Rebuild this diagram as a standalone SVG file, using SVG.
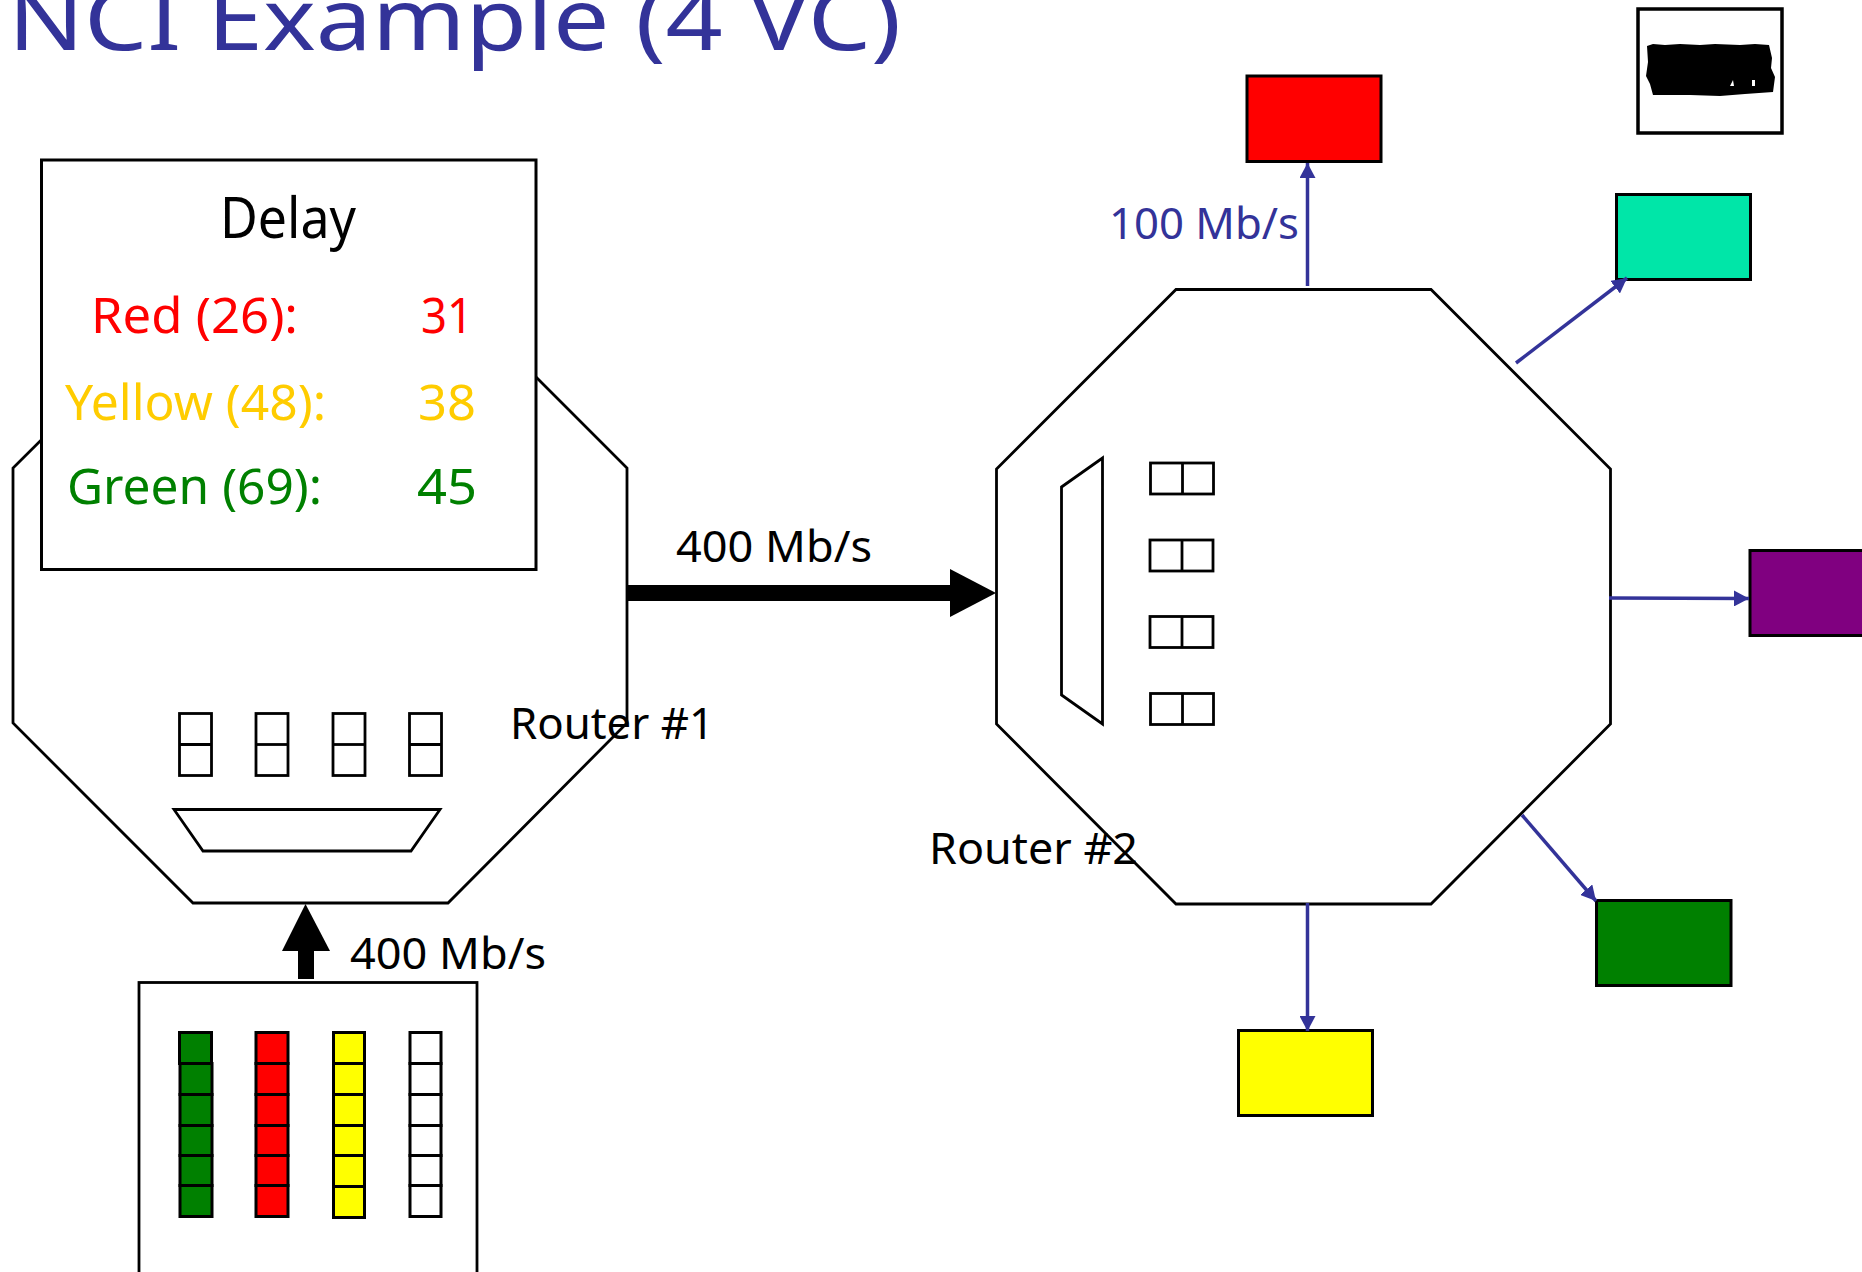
<svg xmlns="http://www.w3.org/2000/svg" width="1862" height="1272" viewBox="0 0 1862 1272">
<style>
text{font-family:"Noto Sans","DejaVu Sans",sans-serif;fill:#000}
.l{font-size:50px}.m{font-size:44px}
.o{fill:none;stroke:#000;stroke-width:2.8;stroke-linejoin:miter}
.w{fill:#fff;stroke:#000;stroke-width:3}
.c{fill:none;stroke:#333399;stroke-width:3.5}
.b{fill:#333399}
.q{stroke:#000;stroke-width:3}
</style>
<defs>
<g id="vq"><rect class="o" x="0" y="0" width="32" height="62"/><line class="o" x1="0" y1="31" x2="32" y2="31"/></g>
<g id="hq"><rect class="o" x="0" y="0" width="63" height="31"/><line class="o" x1="32" y1="0" x2="32" y2="31"/></g>
<marker id="arr" markerUnits="userSpaceOnUse" markerWidth="16" markerHeight="16" refX="15" refY="8" orient="auto"><path class="b" d="M0 0L15 8L0 16Z"/></marker>
</defs>
<rect width="1862" height="1272" fill="#fff"/>
<g id="title"><text x="8" y="50" font-size="86" style="fill:#333399" textLength="893" lengthAdjust="spacingAndGlyphs">NCI Example (4 VC)</text></g>

<g id="router1-label"><text class="m" x="510" y="739" textLength="204" lengthAdjust="spacingAndGlyphs">Router #1</text></g>
<g id="router1">
<polygon class="o" points="193,289 448,289 627,468 627,723 448,903 193,903 13,723 13,468"/>
<use href="#vq" x="179.500" y="713.500"/><use href="#vq" x="256" y="713.500"/><use href="#vq" x="333" y="713.500"/><use href="#vq" x="409.500" y="713.500"/>
<polygon class="o" points="174,809.500 440,809.500 411,851 203,851"/>
</g>

<g id="delay">
<rect class="w" x="41.500" y="160" width="494.500" height="409.500"/>
<text x="220" y="238" font-size="56" textLength="136" lengthAdjust="spacingAndGlyphs">Delay</text>
<text class="l" style="fill:#f00" x="91" y="333" textLength="207" lengthAdjust="spacingAndGlyphs">Red (26):</text><text class="l" style="fill:#f00" x="421" y="333" textLength="52" lengthAdjust="spacingAndGlyphs">31</text>
<text class="l" style="fill:#ffcc00" x="65" y="420" textLength="261" lengthAdjust="spacingAndGlyphs">Yellow (48):</text><text class="l" style="fill:#ffcc00" x="418" y="420" textLength="58" lengthAdjust="spacingAndGlyphs">38</text>
<text class="l" style="fill:#008000" x="67" y="504" textLength="255" lengthAdjust="spacingAndGlyphs">Green (69):</text><text class="l" style="fill:#008000" x="417" y="504" textLength="60" lengthAdjust="spacingAndGlyphs">45</text>
</g>

<g id="source">
<rect class="o" x="139" y="982.500" width="338" height="300"/>
<g id="queue-green" fill="#008000"><rect class="q" x="179.500" y="1032.500" width="32" height="31"/><rect class="q" x="180" y="1063.500" width="32" height="31"/><rect class="q" x="180" y="1094.500" width="32" height="31"/><rect class="q" x="180" y="1125.500" width="32" height="30"/><rect class="q" x="180" y="1155.500" width="32" height="30"/><rect class="q" x="180" y="1185.500" width="32" height="31"/></g>
<g id="queue-red" fill="#f00"><rect class="q" x="256" y="1032.500" width="32" height="31"/><rect class="q" x="256" y="1063.500" width="32" height="31"/><rect class="q" x="256" y="1094.500" width="32" height="31"/><rect class="q" x="256" y="1125.500" width="32" height="30"/><rect class="q" x="256" y="1155.500" width="32" height="30"/><rect class="q" x="256" y="1185.500" width="32" height="31"/></g>
<g id="queue-yellow" fill="#ff0"><rect class="q" x="333.500" y="1032.500" width="31" height="31"/><rect class="q" x="333.500" y="1063.500" width="31" height="31"/><rect class="q" x="333.500" y="1094.500" width="31" height="31"/><rect class="q" x="333.500" y="1125.500" width="31" height="30"/><rect class="q" x="333.500" y="1155.500" width="31" height="31"/><rect class="q" x="333.500" y="1186.500" width="31" height="31"/></g>
<g id="queue-white" fill="#fff"><rect class="q" x="410" y="1032.500" width="31" height="31"/><rect class="q" x="410" y="1063.500" width="31" height="31"/><rect class="q" x="410" y="1094.500" width="31" height="31"/><rect class="q" x="410" y="1125.500" width="31" height="30"/><rect class="q" x="410" y="1155.500" width="31" height="30"/><rect class="q" x="410" y="1185.500" width="31" height="31"/></g>
</g>

<g id="router2">
<polygon class="o" points="1176,289.500 1431,289.500 1610.500,469 1610.500,724 1431,904 1176,904 996.500,724 996.500,469"/>
<polygon class="o" points="1061.500,487 1102.500,458 1102.500,724 1061.500,695"/>
<use href="#hq" x="1150.500" y="463"/><use href="#hq" x="1150" y="540"/><use href="#hq" x="1150" y="616.500"/><use href="#hq" x="1150.500" y="693.500"/>
</g>
<g id="router2-label"><text class="m" x="929" y="864" textLength="209" lengthAdjust="spacingAndGlyphs">Router #2</text></g>

<g id="dest-red"><rect class="w" x="1247" y="76" width="134" height="85.500" style="fill:#f00"/></g>
<g id="dest-teal"><rect class="w" x="1616.500" y="194.500" width="134" height="85" style="fill:#00e6a8"/></g>
<g id="dest-purple"><rect class="w" x="1750" y="550.500" width="130" height="85" style="fill:#800080"/></g>
<g id="dest-green"><rect class="w" x="1596.500" y="900.500" width="134.500" height="85" style="fill:#008000"/></g>
<g id="dest-yellow"><rect class="w" x="1238.500" y="1030.500" width="134" height="85" style="fill:#ff0"/></g>
<g id="badge">
<rect x="1638" y="9" width="144" height="124" fill="#fff" stroke="#000" stroke-width="3.500"/>
<path fill="#000" d="M1647 46L1653 44L1665 45L1680 44L1700 45L1715 44L1740 45L1755 44L1769 45L1772 58L1771 68L1775 77L1773 92L1745 94L1720 96L1690 95L1653 95L1650 84L1646 76L1648 62Z"/>
<path fill="#fff" d="M1730 86L1733 80L1734 86Z M1752 80L1755 80L1755 86L1752 86Z"/>
</g>

<g id="connectors">
<rect x="626" y="585" width="325" height="16" fill="#000"/><polygon points="950,569 996,593 950,617" fill="#000"/>
<rect x="298" y="950" width="16" height="29" fill="#000"/><polygon points="305.500,904 330,951 282,951" fill="#000"/>
<line class="c" x1="1307.500" y1="286" x2="1307.500" y2="163" marker-end="url(#arr)"/>
<line class="c" x1="1516" y1="363" x2="1627" y2="278" marker-end="url(#arr)"/>
<line class="c" x1="1609" y1="598" x2="1749" y2="598.500" marker-end="url(#arr)"/>
<line class="c" x1="1522" y1="815" x2="1596" y2="901" marker-end="url(#arr)"/>
<line class="c" x1="1307.500" y1="903" x2="1307.500" y2="1031" marker-end="url(#arr)"/>
</g>
<g id="link-labels">
<text class="m" x="676" y="562" textLength="196" lengthAdjust="spacingAndGlyphs">400 Mb/s</text>
<text class="m" x="350" y="969" textLength="196" lengthAdjust="spacingAndGlyphs">400 Mb/s</text>
<text class="m" style="fill:#333399" x="1109" y="239" textLength="190" lengthAdjust="spacingAndGlyphs">100 Mb/s</text>
</g>
</svg>
